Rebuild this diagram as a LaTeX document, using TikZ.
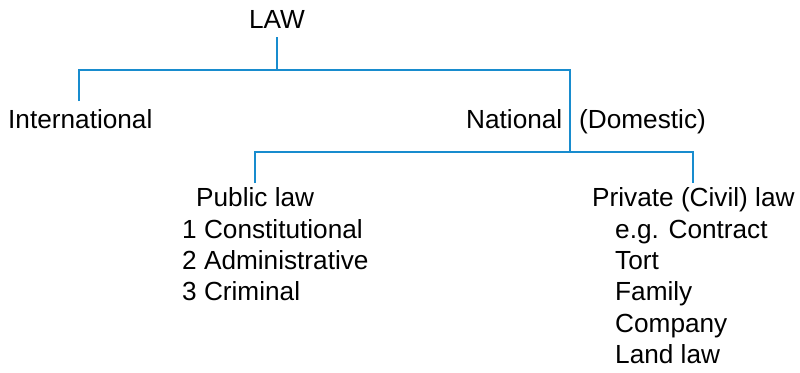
\documentclass[tikz,border=0pt]{standalone}
\usepackage{fontspec}
\setmainfont{Liberation Sans}
\definecolor{treeblue}{RGB}{24,140,206}
\begin{document}
\begin{tikzpicture}[x=1pt,y=-1pt,
  lbl/.style={anchor=base west,inner sep=0pt,font=\fontsize{26.2}{31}\selectfont},
  link/.style={draw=treeblue,line width=1.5pt}]
\useasboundingbox (0,0) rectangle (800,372);

% headings
\node[lbl,anchor=base] (law) at (277,28) {LAW};
\node[lbl] (intl) at (8,128) {International};
\node[lbl] (natl) at (466,128) {National};
\node[lbl] (dom) at (579,128) {(Domestic)};

% public law column
\node[lbl] (pub) at (196,206) {Public law};
\node[lbl] (p1) at (182,238) {1 Constitutional};
\node[lbl] (p2) at (182,269) {2 Administrative};
\node[lbl] (p3) at (182,300) {3 Criminal};

% private law column
\node[lbl] (priv) at (592,206) {Private (Civil) law};
\node[lbl] (c1) at (615,238) {e.g. Contract};
\node[lbl] (c2) at (615,269) {Tort};
\node[lbl] (c3) at (615,300) {Family};
\node[lbl] (c4) at (615,332) {Company};
\node[lbl] (c5) at (615,363) {Land law};

% branch points and line ends
\coordinate (lawfoot) at (277,37);
\coordinate (j1) at (277,70);
\coordinate (intltop) at (79,101);
\coordinate (natltop) at (570,70);
\coordinate (j2) at (570,152);
\coordinate (pubtop) at (255,183);
\coordinate (privtop) at (693,183);

% first level
\draw[link] (lawfoot) -- (j1);
\draw[link] (intltop) |- (j1) -- (natltop) -- (j2);
% second level
\draw[link] (pubtop) |- (j2) -| (privtop);
\end{tikzpicture}
\end{document}
